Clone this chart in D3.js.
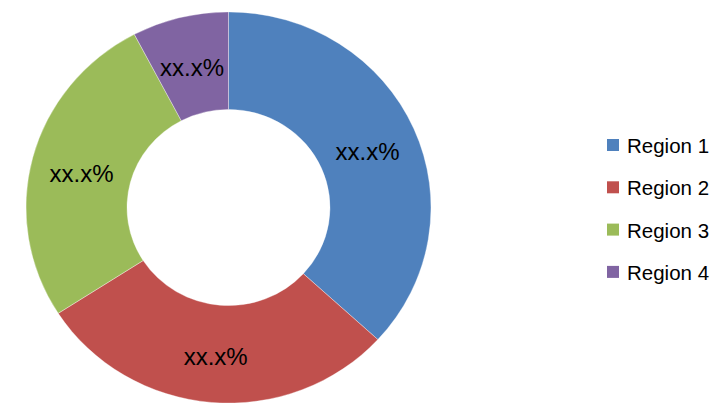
<!DOCTYPE html>
<html>
<head>
<meta charset="utf-8">
<script src="https://cdn.jsdelivr.net/npm/d3@7"></script>
<style>
  html, body { margin: 0; padding: 0; background: #fff; }
  svg { display: block; }
</style>
</head>
<body>
<svg id="chart" width="714" height="417"></svg>
<script>
const categories = ["Region 1", "Region 2", "Region 3", "Region 4"];
const values = [36.8, 29.1, 26.4, 7.7];
const labels = ["xx.x%", "xx.x%", "xx.x%", "xx.x%"];
const colors = ["#4F81BD", "#C0504D", "#9BBB59", "#8064A2"];

const svg = d3.select("#chart");
const cx = 228.5, cy = 207.5;
const rOuter = 202.5, rInner = 101.5, yScale = 0.966;

const pie = d3.pie().sort(null).value(d => d)(values);
const arc = d3.arc().innerRadius(rInner).outerRadius(rOuter);
const labelArc = d3.arc().innerRadius((rInner + rOuter) / 2).outerRadius((rInner + rOuter) / 2);

const g = svg.append("g").attr("transform", `translate(${cx},${cy}) scale(1,${yScale})`);
g.selectAll("path")
  .data(pie)
  .join("path")
  .attr("d", arc)
  .attr("fill", (d, i) => colors[i])
  .attr("stroke", "rgba(255,255,255,0.45)")
  .attr("stroke-width", 0.8);

const lg = svg.append("g").attr("transform", `translate(${cx},${cy + 3})`);
lg.selectAll("text")
  .data(pie)
  .join("text")
  .attr("x", d => labelArc.centroid(d)[0])
  .attr("y", d => labelArc.centroid(d)[1] * yScale)
  .attr("text-anchor", "middle")
  .attr("dominant-baseline", "central")
  .attr("font-family", "'Liberation Sans', Arial, sans-serif")
  .attr("font-size", 24)
  .attr("fill", "#000")
  .text((d, i) => labels[i]);

const legend = svg.append("g").attr("transform", "translate(607,145)");
const items = legend.selectAll("g")
  .data(categories)
  .join("g")
  .attr("transform", (d, i) => `translate(0,${i * 42.3})`);
items.append("rect")
  .attr("x", 0).attr("y", -6)
  .attr("width", 12).attr("height", 12)
  .attr("fill", (d, i) => colors[i]);
items.append("text")
  .attr("x", 20).attr("y", 0.5)
  .attr("dominant-baseline", "central")
  .attr("font-family", "'Liberation Sans', Arial, sans-serif")
  .attr("font-size", 20.5)
  .attr("fill", "#000")
  .text(d => d);
</script>
</body>
</html>
